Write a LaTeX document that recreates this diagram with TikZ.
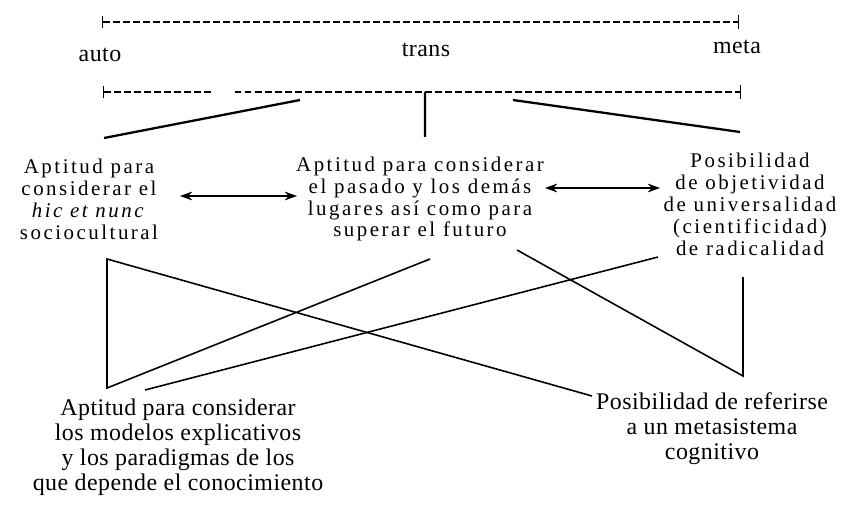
\documentclass[tikz,border=0pt]{standalone}
\usepackage{fontspec}
\setmainfont{Liberation Serif}
\newfontfamily\widefont[LetterSpace=12]{Liberation Serif}
\newfontfamily\tallfont[LetterSpace=2]{Liberation Serif}
\usetikzlibrary{positioning,arrows.meta}

\begin{document}
\begin{tikzpicture}[
    mid text/.style={align=center, inner sep=0pt, font=\widefont\fontsize{11.9}{12.5}\selectfont},
    low text/.style={align=center, inner sep=0pt, font=\tallfont\fontsize{13.6}{14.2}\selectfont},
    scale line/.style={dash pattern=on 0.13cm off 0.07cm, line width=0.8pt},
    fork/.style={line width=1.3pt},
    link/.style={line width=0.9pt},
    both ways/.style={line width=0.9pt, {Stealth[length=7pt,width=5pt]}-{Stealth[length=7pt,width=5pt]}}]
      \useasboundingbox (-8.4,3.98) rectangle (8.7,-6.24);

      \node[mid text] (Mid) {Aptitud para considerar\\el pasado y los demás\\lugares así como para\\superar el futuro};
      \node[mid text, on grid, left=6.62cm of Mid] (Hic) {Aptitud para\\considerar el\\\textit{hic et nunc}\\sociocultural};
      \node[mid text, on grid, below right=0.1cm and 6.6cm of Mid] (Obj) {Posibilidad\\de objetividad\\de universalidad\\(cientificidad)\\de radicalidad};

      \node[low text, on grid, above right=2.98cm and 0.12cm of Mid] (Trans) {trans};
      \node[low text, on grid, below left=0.1cm and 6.52cm of Trans] (Auto) {auto};
      \node[low text, on grid, above right=0.06cm and 6.22cm of Trans] (Meta) {meta};

      \node[low text, on grid, below left=4.97cm and 4.84cm of Mid] (Models) {Aptitud para considerar\\los modelos explicativos\\y los paradigmas de los\\que depende el conocimiento};
      \node[low text, on grid, below right=4.6cm and 5.84cm of Mid] (Cognitive) {Posibilidad de referirse\\a un metasistema\\cognitivo};

      % the two scales
      \coordinate[on grid, above left=0.56cm and 6.48cm of Trans] (TopL);
      \coordinate[on grid, above right=0.56cm and 6.26cm of Trans] (TopR);
      \coordinate[on grid, below left=0.84cm and 6.46cm of Trans] (LowL);
      \coordinate[on grid, below left=0.84cm and 4.26cm of Trans] (GapL);
      \coordinate[on grid, below left=0.84cm and 3.82cm of Trans] (GapR);
      \coordinate[on grid, below right=0.84cm and 6.3cm of Trans] (LowR);
      \draw[scale line, {Bar[width=7pt]}-{Bar[width=8pt]}] (TopL) to (TopR);
      \draw[scale line, {Bar[width=7pt]}-] (LowL) to (GapL);
      \draw[scale line, -{Bar[width=8pt]}] (GapR) to (LowR);

      % from the scale down to the three aptitudes
      \coordinate[on grid, below left=1cm and 2.52cm of Trans] (LeftFork);
      \coordinate[on grid, below left=0.84cm and 0.02cm of Trans] (TransFoot);
      \coordinate[on grid, below right=1cm and 1.74cm of Trans] (RightFork);
      \coordinate[on grid, above right=1.22cm and 0.3cm of Hic] (HicHead);
      \coordinate[on grid, above right=1.24cm and 0.1cm of Mid] (MidHead);
      \coordinate[on grid, above left=1.44cm and 0.2cm of Obj] (ObjHead);
      \draw[fork] (LeftFork) to (HicHead);
      \draw[fork] (TransFoot) to (MidHead);
      \draw[fork] (RightFork) to (ObjHead);

      \draw[both ways] ([shift={(1.82,0.06)}]Hic.center) to ([shift={(-2.46,0.06)}]Mid.center);
      \draw[both ways] ([shift={(2.5,0.22)}]Mid.center) to ([shift={(-1.8,0.32)}]Obj.center);

      % crossing lines
      \coordinate[on grid, below right=1.2cm and 0.36cm of Hic] (HicFoot);
      \coordinate[on grid, below right=1.2cm and 0.2cm of Mid] (MidFootL);
      \coordinate[on grid, below right=1.02cm and 1.94cm of Mid] (MidFootR);
      \coordinate[on grid, below left=1.06cm and 1.84cm of Obj] (ObjFootL);
      \coordinate[on grid, below left=1.46cm and 0.14cm of Obj] (ObjFootR);
      \coordinate[on grid, above left=1.19cm and 1.42cm of Models] (ModelsCorner);
      \coordinate[on grid, above left=1.15cm and 0.66cm of Models] (ModelsHead);
      \coordinate[on grid, above left=0.66cm and 2.4cm of Cognitive] (CognitiveHead);
      \coordinate[on grid, above right=1.06cm and 0.62cm of Cognitive] (CognitiveCorner);
      \draw[link] (MidFootL) to (ModelsCorner) to (HicFoot) to (CognitiveHead);
      \draw[link] (ObjFootL) to (ModelsHead);
      \draw[link] (MidFootR) to (CognitiveCorner) to (ObjFootR);
\end{tikzpicture}
\end{document}
